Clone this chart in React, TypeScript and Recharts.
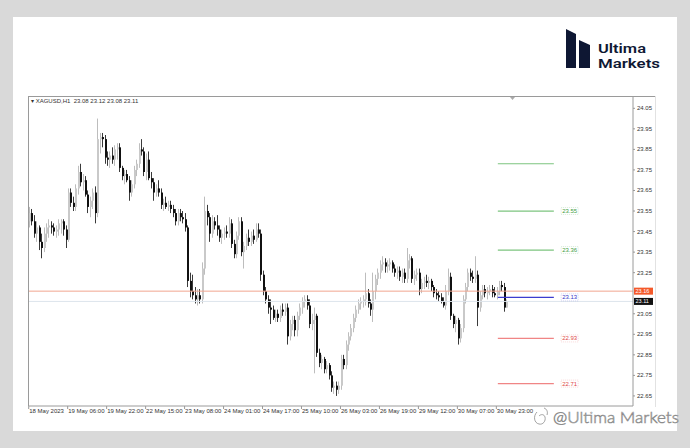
import React from 'react';
import { ComposedChart, Bar, XAxis, YAxis, ReferenceLine, ReferenceDot } from 'recharts';

// ---- data (XAGUSD H1) ----
const timeLabels = ['18 May 2023', '19 May 06:00', '19 May 22:00', '22 May 15:00', '23 May 08:00', '24 May 01:00', '24 May 17:00', '25 May 10:00', '26 May 03:00', '26 May 19:00', '29 May 12:00', '30 May 07:00', '30 May 23:00'];
const barsPerLabel = 16;
const totalSlots = 248;
// 23.15 is hidden under the ask-price tag in the original
const priceTicks = [22.65, 22.75, 22.85, 22.95, 23.05, 23.25, 23.35, 23.45, 23.55, 23.65, 23.75, 23.85, 23.95, 24.05];

const opens = [
  23.50, 23.54, 23.50, 23.44, 23.47, 23.40, 23.37, 23.44, 23.47, 23.48, 23.47, 23.45, 23.46, 23.49, 23.50, 23.46,
  23.41, 23.64, 23.59, 23.57, 23.66, 23.74, 23.69, 23.70, 23.63, 23.57, 23.60, 23.64, 23.54, 23.90, 23.91, 23.90,
  23.81, 23.80, 23.82, 23.80, 23.85, 23.86, 23.76, 23.72, 23.73, 23.70, 23.64, 23.68, 23.75, 23.78, 23.85, 23.84,
  23.74, 23.80, 23.71, 23.69, 23.64, 23.66, 23.64, 23.58, 23.59, 23.57, 23.58, 23.56, 23.54, 23.50, 23.54, 23.52,
  23.51, 23.47, 23.21, 23.16, 23.14, 23.12, 23.14, 23.12, 23.27, 23.55, 23.52, 23.44, 23.50, 23.48, 23.46, 23.42,
  23.44, 23.45, 23.44, 23.49, 23.39, 23.34, 23.43, 23.50, 23.35, 23.38, 23.42, 23.40, 23.43, 23.41, 23.46, 23.44,
  23.24, 23.16, 23.12, 23.08, 23.07, 23.03, 23.05, 23.03, 23.07, 23.06, 23.08, 22.94, 23.00, 23.02, 22.97, 23.04,
  23.08, 23.11, 23.12, 23.09, 23.00, 23.02, 23.04, 22.86, 22.81, 22.83, 22.78, 22.80, 22.75, 22.69, 22.70, 22.68,
  22.70, 22.83, 22.80, 22.90, 22.94, 22.98, 23.03, 23.07, 23.10, 23.11, 23.12, 23.15, 23.10, 23.07, 23.16, 23.22,
  23.25, 23.29, 23.30, 23.28, 23.29, 23.30, 23.27, 23.25, 23.26, 23.23, 23.25, 23.22, 23.31, 23.32, 23.22, 23.24,
  23.25, 23.17, 23.20, 23.21, 23.20, 23.21, 23.18, 23.15, 23.14, 23.13, 23.11, 23.09, 23.16, 23.23, 23.04, 23.00,
  23.02, 22.93, 22.98, 23.12, 23.18, 23.25, 23.23, 23.22, 23.24, 23.08, 23.14, 23.17, 23.15, 23.16, 23.17, 23.15,
  23.14, 23.16, 23.19, 23.18, 23.08,
];
const highs = [
  23.57, 23.56, 23.53, 23.50, 23.48, 23.44, 23.47, 23.49, 23.51, 23.50, 23.49, 23.48, 23.51, 23.51, 23.51, 23.48,
  23.66, 23.66, 23.62, 23.68, 23.77, 23.78, 23.73, 23.72, 23.65, 23.62, 23.66, 23.67, 24.00, 23.93, 23.93, 23.92,
  23.84, 23.84, 23.86, 23.87, 23.88, 23.88, 23.77, 23.75, 23.75, 23.72, 23.70, 23.77, 23.80, 23.88, 23.90, 23.86,
  23.83, 23.84, 23.74, 23.71, 23.68, 23.70, 23.66, 23.61, 23.62, 23.60, 23.60, 23.58, 23.56, 23.56, 23.56, 23.55,
  23.54, 23.48, 23.25, 23.24, 23.18, 23.17, 23.17, 23.30, 23.62, 23.58, 23.54, 23.53, 23.52, 23.53, 23.48, 23.46,
  23.47, 23.48, 23.52, 23.51, 23.41, 23.45, 23.52, 23.52, 23.40, 23.44, 23.46, 23.45, 23.46, 23.49, 23.49, 23.46,
  23.26, 23.18, 23.14, 23.12, 23.09, 23.07, 23.07, 23.09, 23.10, 23.10, 23.10, 23.02, 23.04, 23.04, 23.06, 23.10,
  23.13, 23.14, 23.14, 23.12, 23.05, 23.08, 23.05, 22.88, 22.85, 22.84, 22.82, 22.81, 22.77, 22.72, 22.72, 22.72,
  22.85, 22.85, 22.92, 22.96, 23.00, 23.05, 23.09, 23.12, 23.13, 23.14, 23.25, 23.17, 23.12, 23.25, 23.24, 23.27,
  23.31, 23.33, 23.32, 23.31, 23.32, 23.31, 23.29, 23.28, 23.28, 23.27, 23.27, 23.37, 23.34, 23.33, 23.26, 23.27,
  23.27, 23.22, 23.23, 23.24, 23.23, 23.22, 23.19, 23.17, 23.16, 23.15, 23.13, 23.19, 23.27, 23.25, 23.05, 23.04,
  23.03, 23.00, 23.14, 23.20, 23.27, 23.27, 23.26, 23.33, 23.26, 23.16, 23.19, 23.19, 23.18, 23.19, 23.19, 23.18,
  23.18, 23.21, 23.21, 23.20, 23.12,
];
const lows = [
  23.47, 23.48, 23.42, 23.40, 23.36, 23.32, 23.35, 23.40, 23.42, 23.44, 23.43, 23.42, 23.43, 23.44, 23.43, 23.37,
  23.40, 23.57, 23.55, 23.55, 23.63, 23.67, 23.65, 23.62, 23.54, 23.52, 23.56, 23.49, 23.52, 23.83, 23.86, 23.78,
  23.77, 23.76, 23.78, 23.77, 23.80, 23.74, 23.70, 23.68, 23.69, 23.60, 23.62, 23.66, 23.72, 23.76, 23.82, 23.72,
  23.70, 23.70, 23.66, 23.60, 23.62, 23.62, 23.56, 23.55, 23.56, 23.55, 23.54, 23.52, 23.48, 23.48, 23.50, 23.49,
  23.45, 23.18, 23.13, 23.12, 23.10, 23.09, 23.10, 23.10, 23.24, 23.48, 23.40, 23.42, 23.46, 23.43, 23.40, 23.39,
  23.41, 23.42, 23.42, 23.37, 23.32, 23.32, 23.41, 23.33, 23.27, 23.36, 23.38, 23.38, 23.39, 23.40, 23.42, 23.21,
  23.14, 23.10, 23.05, 23.00, 23.02, 23.01, 23.01, 23.01, 23.04, 23.04, 22.90, 22.92, 22.97, 22.94, 22.94, 23.02,
  23.05, 23.08, 23.07, 22.98, 22.97, 22.76, 22.84, 22.79, 22.78, 22.76, 22.76, 22.73, 22.67, 22.66, 22.65, 22.66,
  22.68, 22.78, 22.78, 22.87, 22.92, 22.96, 23.01, 23.05, 23.07, 23.08, 23.09, 23.08, 23.04, 23.01, 23.12, 23.19,
  23.22, 23.26, 23.25, 23.25, 23.26, 23.25, 23.23, 23.22, 23.21, 23.20, 23.20, 23.20, 23.27, 23.20, 23.19, 23.21,
  23.14, 23.15, 23.17, 23.18, 23.17, 23.16, 23.13, 23.12, 23.11, 23.10, 23.08, 23.07, 23.14, 23.02, 22.98, 22.96,
  22.90, 22.91, 22.96, 23.10, 23.16, 23.21, 23.20, 23.20, 22.99, 23.06, 23.12, 23.13, 23.12, 23.14, 23.13, 23.13,
  23.12, 23.14, 23.16, 23.06, 23.08,
];
const closes = [
  23.54, 23.50, 23.44, 23.47, 23.40, 23.37, 23.44, 23.47, 23.48, 23.47, 23.45, 23.46, 23.49, 23.50, 23.46, 23.41,
  23.64, 23.59, 23.57, 23.66, 23.74, 23.69, 23.70, 23.63, 23.57, 23.60, 23.64, 23.54, 23.90, 23.91, 23.90, 23.81,
  23.80, 23.82, 23.80, 23.85, 23.86, 23.76, 23.72, 23.73, 23.70, 23.64, 23.68, 23.75, 23.78, 23.85, 23.84, 23.74,
  23.80, 23.71, 23.69, 23.64, 23.66, 23.64, 23.58, 23.59, 23.57, 23.58, 23.56, 23.54, 23.50, 23.54, 23.52, 23.51,
  23.47, 23.21, 23.16, 23.14, 23.12, 23.14, 23.12, 23.27, 23.55, 23.52, 23.44, 23.50, 23.48, 23.46, 23.42, 23.44,
  23.45, 23.44, 23.49, 23.39, 23.34, 23.43, 23.50, 23.35, 23.38, 23.42, 23.40, 23.43, 23.41, 23.46, 23.44, 23.24,
  23.16, 23.12, 23.08, 23.07, 23.03, 23.05, 23.03, 23.07, 23.06, 23.08, 22.94, 23.00, 23.02, 22.97, 23.04, 23.08,
  23.11, 23.12, 23.09, 23.00, 23.02, 23.04, 22.86, 22.81, 22.83, 22.78, 22.80, 22.75, 22.69, 22.70, 22.68, 22.70,
  22.83, 22.80, 22.90, 22.94, 22.98, 23.03, 23.07, 23.10, 23.11, 23.12, 23.15, 23.10, 23.07, 23.16, 23.22, 23.25,
  23.29, 23.30, 23.28, 23.29, 23.30, 23.27, 23.25, 23.26, 23.23, 23.25, 23.22, 23.31, 23.32, 23.22, 23.24, 23.25,
  23.17, 23.20, 23.21, 23.20, 23.21, 23.18, 23.15, 23.14, 23.13, 23.11, 23.09, 23.16, 23.23, 23.04, 23.00, 23.02,
  22.93, 22.98, 23.12, 23.18, 23.25, 23.23, 23.22, 23.24, 23.08, 23.14, 23.17, 23.15, 23.16, 23.17, 23.15, 23.14,
  23.16, 23.19, 23.18, 23.08, 23.11,
];

// analyst levels drawn to the right of the last bar
const levelPrices = [23.78, 23.55, 23.36, 23.13, 22.93, 22.71];
const levelTexts = ['', '23.55', '23.36', '23.13', '22.93', '22.71'];
const levelColors = ['#7dc47f', '#7dc47f', '#7dc47f', '#3c3ccf', '#f08585', '#f08585'];
const levelTextColors = ['#3f9e43', '#3f9e43', '#3f9e43', '#3535c8', '#e04848', '#e04848'];
const levelStartBar = 192;
const levelEndBar = 215;
const levelLabelBar = 218;
const askPrice = 23.16;
const bidPrice = 23.11;

const data = Array.from({ length: totalSlots }, (_, i) =>
  i < closes.length
    ? { i, hl: [lows[i], highs[i]], o: opens[i], h: highs[i], l: lows[i], c: closes[i] }
    : { i }
);

const FONT = '"Liberation Sans", Arial, sans-serif';

const Candle = (props: any) => {
  const { x, y, width, height, payload } = props;
  if (!payload || payload.h == null) return null;
  const top = Math.min(y, y + height);
  const h = Math.abs(height);
  const range = payload.h - payload.l || 1e-9;
  const yOf = (p: number) => top + ((payload.h - p) / range) * h;
  const cx = Math.round(x + width / 2);
  const bull = payload.c >= payload.o;
  const bt = yOf(Math.max(payload.o, payload.c));
  const bb = yOf(Math.min(payload.o, payload.c));
  return (
    <g>
      <line x1={cx - 0.5} x2={cx - 0.5} y1={top} y2={top + h} stroke={bull ? '#bdbdbd' : '#3a3a3a'} strokeWidth={1} />
      <rect x={cx - 1} y={bt} width={2} height={Math.max(1, bb - bt)} fill={bull ? '#c9c9c9' : '#111'} />
    </g>
  );
};

const TimeTick = (props: any) => {
  const { x, y, payload } = props;
  const v = payload.value;
  if (v % barsPerLabel !== 0) return null;
  const label = timeLabels[v / barsPerLabel];
  if (!label) return null;
  return (
    <g>
      <line x1={x - 1.5} x2={x - 1.5} y1={406} y2={409} stroke="#999" />
      <text x={x - 1} y={y + 5} fontSize={6} fontFamily={FONT} fill="#333" textAnchor="start">{label}</text>
    </g>
  );
};

const PriceTick = (props: any) => {
  const { x, y, payload } = props;
  return (
    <g>
      <line x1={633} x2={635} y1={y} y2={y} stroke="#999" />
      <text x={x + 1} y={y + 2} fontSize={6} fontFamily={FONT} fill="#333" textAnchor="start">
        {Number(payload.value).toFixed(2)}
      </text>
    </g>
  );
};

const AxisTag = (props: any) => {
  const { viewBox, fill, text } = props;
  if (!viewBox) return null;
  const yy = viewBox.y;
  return (
    <g>
      <rect x={634} y={yy - 3.5} width={19} height={7} fill={fill} />
      <text x={635.5} y={yy + 2} fontSize={5.5} fontFamily={FONT} fill="#fff">{text}</text>
    </g>
  );
};

const LevelLabel = (props: any) => {
  const { cx, cy, text, color } = props;
  if (!text) return null;
  return (
    <g>
      <rect x={cx} y={cy - 3.5} width={17} height={7} fill="#fff" stroke={color} strokeOpacity={0.35} strokeDasharray="1 1" strokeWidth={0.6} />
      <text x={cx + 1} y={cy + 2} fontSize={6} fontFamily={FONT} fill={color}>{text}</text>
    </g>
  );
};

export default function App() {
  return (
    <div style={{ position: 'absolute', left: 0, top: 0, width: 690, height: 448, background: '#d9d9d9', overflow: 'hidden' }}>
      <div style={{ position: 'absolute', left: 13, top: 17, width: 664, height: 414, background: '#fff' }} />
      {/* logo */}
      <svg style={{ position: 'absolute', left: 0, top: 0 }} width={690} height={448}>
        <polygon points="566,29 576,34 576,68 566,68" fill="#0e1733" />
        <polygon points="579,40 590,45 590,68 579,68" fill="#0e1733" />
        <text x={598} y={52.5} fontFamily="Roboto, sans-serif" fontWeight={600} fontSize={12.5} textLength={48} lengthAdjust="spacingAndGlyphs" fill="#0e1733">Ultima</text>
        <text x={598} y={67.5} fontFamily="Roboto, sans-serif" fontWeight={600} fontSize={12.5} textLength={62} lengthAdjust="spacingAndGlyphs" fill="#0e1733">Markets</text>
        {/* window frame */}
        <line x1={28} x2={656} y1={96.5} y2={96.5} stroke="#9a9a9a" />
        <line x1={28.5} x2={28.5} y1={96} y2={406} stroke="#9a9a9a" />
        <line x1={655.5} x2={655.5} y1={96} y2={407} stroke="#e2e2e2" />
        <polygon points="510,97 515,97 512.5,100" fill="#aaa" />
      </svg>
      <div style={{ position: 'absolute', left: 0, top: 0 }}>
        <ComposedChart width={690} height={448} data={data} margin={{ top: 97, left: 29, right: 33, bottom: 28 }} barCategoryGap={0} barGap={0}>
          <XAxis dataKey="i" type="category" interval={barsPerLabel - 1} height={14} tickSize={2} tickMargin={0}
            axisLine={{ stroke: '#9a9a9a' }} tickLine={false} tick={<TimeTick />} />
          <YAxis orientation="right" type="number" domain={[22.601, 24.105]} allowDataOverflow ticks={priceTicks} interval={0}
            width={24} axisLine={{ stroke: '#9a9a9a' }} tickLine={false} tickSize={3} tickMargin={0} tick={<PriceTick />} />
          <ReferenceLine y={askPrice} stroke="#f2a58f" strokeWidth={1} label={<AxisTag fill="#f4592a" text={askPrice.toFixed(2)} />} />
          <ReferenceLine y={bidPrice} stroke="#dde4ec" strokeWidth={1} label={<AxisTag fill="#111" text={bidPrice.toFixed(2)} />} />
          {levelPrices.map((p, k) => (
            <ReferenceLine key={'l' + k} segment={[{ x: levelStartBar, y: p }, { x: levelEndBar, y: p }]} stroke={levelColors[k]} strokeWidth={1.2} />
          ))}
          {levelPrices.map((p, k) => (
            <ReferenceDot key={'t' + k} x={levelLabelBar} y={p} r={0}
              shape={(props: any) => <LevelLabel {...props} text={levelTexts[k]} color={levelTextColors[k]} />} />
          ))}
          <Bar dataKey="hl" isAnimationActive={false} shape={<Candle />} />
        </ComposedChart>
      </div>
      <div style={{ position: 'absolute', left: 31, top: 97, fontFamily: FONT, fontSize: 6, color: '#333', whiteSpace: 'pre', lineHeight: '8px' }}>
        {'\u25BE XAGUSD,H1  23.08 23.12 23.08 23.11'}
      </div>
      {/* watermark */}
      <svg style={{ position: 'absolute', left: 0, top: 0 }} width={690} height={448}>
        <g fill="none" stroke="#8c8c8c" strokeWidth={0.8}>
          <path d="M537,412 C533,416 534,423 539,424 C543,425 546,421 545,417 C544,414 541,414 539,416" />
          <path d="M544,408 C547,409 548,412 547,415" />
        </g>
        <text x={553} y={423} fontFamily="Lato, sans-serif" fontWeight={300} fontSize={16} textLength={126} lengthAdjust="spacingAndGlyphs"
          fill="#fff" stroke="#8c8c8c" strokeWidth={0.6}>@Ultima Markets</text>
      </svg>
    </div>
  );
}
